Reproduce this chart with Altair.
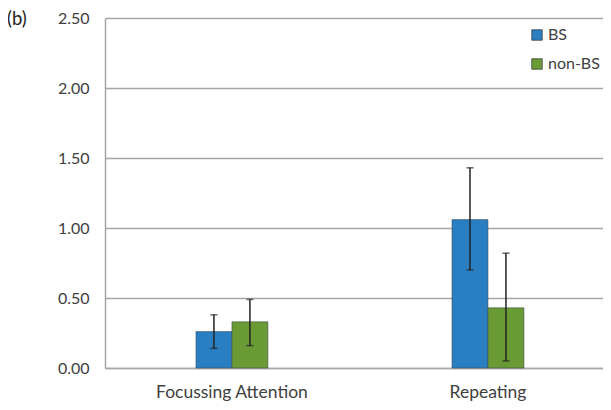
import altair as alt
import pandas as pd

categories = ["Focussing Attention", "Focussing Attention", "Repeating", "Repeating"]
groups = ["BS", "non-BS", "BS", "non-BS"]
means = [0.26, 0.33, 1.06, 0.43]
lower = [0.14, 0.16, 0.70, 0.05]
upper = [0.38, 0.49, 1.43, 0.82]
y_ticks = [0.0, 0.5, 1.0, 1.5, 2.0, 2.5]
colors = ["#2A7EC2", "#6A9A33"]

df = pd.DataFrame({"cat": categories, "grp": groups, "mean": means, "lo": lower, "hi": upper})

FONT = "Lato"
GRID = "#a6a6a6"
CAT_ORDER = ["Focussing Attention", "Repeating"]

xenc = alt.X("cat:N", sort=CAT_ORDER,
             scale=alt.Scale(paddingInner=0.719, paddingOuter=0.332, align=0.535),
             axis=alt.Axis(title=None, labelAngle=0, ticks=False, domain=True,
                           domainColor=GRID, domainWidth=1.5, labelPadding=15,
                           labelFontSize=17.5, labelColor="#404040", labelFont=FONT))
xoff = alt.XOffset("grp:N", sort=["BS", "non-BS"])

base = alt.Chart(df)

bars = base.mark_bar(stroke="#3b4a55", strokeWidth=0.8, strokeOpacity=0.7).encode(
    x=xenc,
    xOffset=xoff,
    y=alt.Y("mean:Q", scale=alt.Scale(domain=[0, 2.5], nice=False),
            axis=alt.Axis(title=None, values=y_ticks, format=".2f", ticks=False,
                          domain=True, domainColor=GRID, domainWidth=1.5,
                          grid=True, gridColor=GRID, gridWidth=1.5,
                          labelPadding=16, labelFontSize=16, labelColor="#404040",
                          labelFont=FONT)),
    color=alt.Color("grp:N", sort=["BS", "non-BS"],
                    scale=alt.Scale(domain=["BS", "non-BS"], range=colors),
                    legend=alt.Legend(title=None, orient="none", legendX=424, legendY=9,
                                      symbolType="square", symbolSize=110,
                                      symbolStrokeColor="#444", symbolStrokeWidth=0.8,
                                      labelFontSize=16, labelFont=FONT, labelColor="#404040",
                                      rowPadding=13, labelOffset=3, padding=0)),
)

rules = base.mark_rule(color="#222", strokeWidth=1.5).encode(
    x=alt.X("cat:N", sort=CAT_ORDER),
    xOffset=xoff,
    y="lo:Q",
    y2="hi:Q",
)

caps_lo = base.mark_tick(color="#222", size=7, thickness=1.5, orient="horizontal").encode(
    x=alt.X("cat:N", sort=CAT_ORDER),
    xOffset=xoff,
    y="lo:Q",
)
caps_hi = base.mark_tick(color="#222", size=7, thickness=1.5, orient="horizontal").encode(
    x=alt.X("cat:N", sort=CAT_ORDER),
    xOffset=xoff,
    y="hi:Q",
)

label = alt.Chart(pd.DataFrame({"t": ["(b)"]})).mark_text(
    align="left", baseline="middle", fontSize=18.5, font=FONT, color="#222"
).encode(x=alt.value(-98), y=alt.value(1), text="t:N")

chart = alt.layer(bars, rules, caps_lo, caps_hi, label).properties(
    width=498, height=350,
    autosize=alt.AutoSizeParams(type="none"),
    padding={"left": 97, "top": 10, "right": 0, "bottom": 34},
).configure_view(stroke=None)

chart.save("out.html", embed_options={"renderer": "svg", "actions": False})
